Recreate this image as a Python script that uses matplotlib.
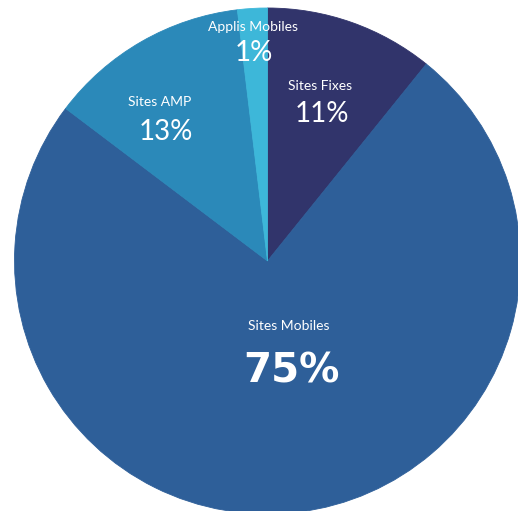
import matplotlib.pyplot as plt

# parts du trafic
categories = ['Sites Fixes', 'Sites Mobiles', 'Sites AMP', 'Applis Mobiles']
values = [10.8, 74.5, 12.8, 1.9]
pct_labels = ['11%', '75%', '13%', '1%']
colors = ['#31346b', '#2e5f99', '#2b89b9', '#3db7d9']

W, H = 518, 511
cx, cy, r = 267.5, 261, 253

fig = plt.figure(figsize=(W / 100, H / 100), dpi=100)
ax = fig.add_axes([0, 0, 1, 1])
wedges, _ = ax.pie(values, colors=colors, startangle=90, counterclock=False,
                   radius=1, center=(0, 0), wedgeprops=dict(linewidth=0.6))
for w in wedges:
    w.set_edgecolor(w.get_facecolor())
ax.set_xlim(-cx / r, (W - cx) / r)
ax.set_ylim(-(H - cy) / r, cy / r)
ax.set_aspect('auto')
ax.axis('off')

# positions des étiquettes en pixels (nom, pourcentage)
name_pos = [(320, 86), (289, 326), (160, 102), (253, 27)]
pct_pos = [(322, 114), (291, 371), (166, 132), (254, 53)]
pct_sizes = [20, 29, 20, 20]

for i, cat in enumerate(categories):
    x, y = name_pos[i]
    fig.text(x / W, 1 - y / H, cat, color='white', fontsize=10,
             family='Lato', ha='center', va='center')
    x, y = pct_pos[i]
    if i == 1:
        fig.text(x / W, 1 - y / H, pct_labels[i], color='white',
                 fontsize=pct_sizes[i], family='DejaVu Sans', fontweight='bold',
                 ha='center', va='center')
    else:
        fig.text(x / W, 1 - y / H, pct_labels[i], color='white',
                 fontsize=pct_sizes[i], family='Lato',
                 ha='center', va='center')

fig.savefig('out.png', dpi=100)
